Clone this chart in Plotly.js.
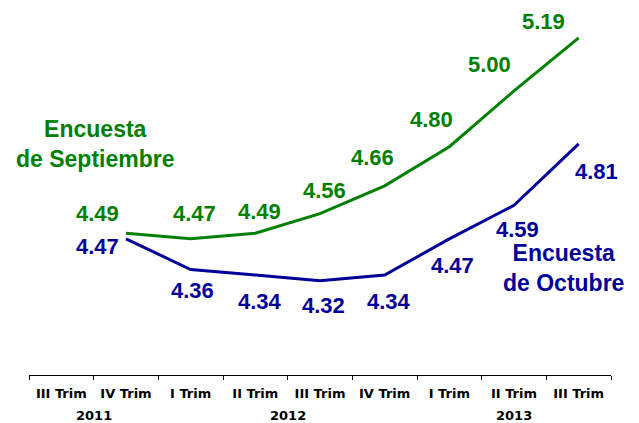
<!DOCTYPE html>
<html>
<head>
<meta charset="utf-8">
<script src="https://cdn.plot.ly/plotly-3.0.1.min.js"></script>
<style>html,body{margin:0;padding:0;background:#fff;}#chart{width:639px;height:423px;}</style>
</head>
<body>
<div id="chart"></div>
<script>
var quarters = ['III Trim','IV Trim','I Trim','II Trim','III Trim','IV Trim','I Trim','II Trim','III Trim'];
var years = ['2011','2011','2012','2012','2012','2012','2013','2013','2013'];
var septiembre = [null, 4.49, 4.47, 4.49, 4.56, 4.66, 4.80, 5.00, 5.19];
var octubre = [null, 4.47, 4.36, 4.34, 4.32, 4.34, 4.47, 4.59, 4.81];
var septName = 'Encuesta<br>de Septiembre';
var octName = 'Encuesta<br>de Octubre';

var GREEN = '#008000', BLUE = '#000099';
var ids = quarters.map(function(q, i){ return q + ' ' + years[i]; });

// label offsets (pixels) relative to each point
var septShift = [null, [-29,20],[4,25],[4,22],[4,23],[-12,28],[-18,27],[-25,26],[-35,16]];
var octShift  = [null, [-29,-8],[2,-21],[5,-26],[3,-25],[4,-26],[3,-27],[3,-24],[18,-28]];

var labelFamily = 'Liberation Sans, Arial, sans-serif';
var annotations = [];
function addLabels(vals, shifts, color){
  vals.forEach(function(v, i){
    if (v === null) return;
    annotations.push({x: ids[i], y: v, xref:'x', yref:'y', text:'<b>'+v.toFixed(2)+'</b>',
      showarrow:false, xshift: shifts[i][0], yshift: shifts[i][1], borderpad:0,
      xanchor:'center', yanchor:'middle', font:{family:labelFamily, size:22, color:color}});
  });
}
addLabels(septiembre, septShift, GREEN);
addLabels(octubre, octShift, BLUE);

// year group labels centered under their quarters
var uniqYears = years.filter(function(y, i){ return years.indexOf(y) === i; });
uniqYears.forEach(function(y){
  var idx = [];
  years.forEach(function(yy, i){ if (yy === y) idx.push(i); });
  var mid = (idx[0] + idx[idx.length-1]) / 2;
  annotations.push({x: mid, y: 0, xref:'x', yref:'paper', text:'<b>'+y+'</b>', showarrow:false,
    yshift:-40.5, xanchor:'center', yanchor:'middle', borderpad:0,
    font:{family:'DejaVu Sans, sans-serif', size:13, color:'#000'}});
});

annotations.push({x:0.115, y:0.633, xref:'paper', yref:'paper', text:'<b>'+septName+'</b>', showarrow:false,
  xanchor:'center', yanchor:'middle', align:'center', borderpad:0, font:{family:labelFamily, size:23, color:GREEN}});
annotations.push({x:0.919, y:0.292, xref:'paper', yref:'paper', text:'<b>'+octName+'</b>', showarrow:false,
  xanchor:'center', yanchor:'middle', align:'center', borderpad:0, font:{family:labelFamily, size:23, color:BLUE}});

var traces = [
  {x: ids, y: septiembre, type:'scatter', mode:'lines', line:{color:GREEN, width:3}, connectgaps:false, hoverinfo:'skip'},
  {x: ids, y: octubre, type:'scatter', mode:'lines', line:{color:BLUE, width:3}, connectgaps:false, hoverinfo:'skip'}
];

var layout = {
  width:639, height:423,
  margin:{l:29, r:28, t:10, b:48},
  paper_bgcolor:'#fff', plot_bgcolor:'#fff',
  showlegend:false,
  xaxis:{type:'category', categoryorder:'array', categoryarray: ids, range:[-0.5, 8.5],
    tickmode:'array', tickvals: ids, ticktext: quarters.map(function(q){return '<b>'+q+'</b>';}),
    tickson:'boundaries', ticks:'outside', ticklen:4, tickcolor:'#000', tickwidth:1,
    ticklabelstandoff:6,
    showline:true, linecolor:'#000', linewidth:1, showgrid:false, zeroline:false,
    tickfont:{family:'DejaVu Sans, sans-serif', size:13, color:'#000'}, fixedrange:true},
  yaxis:{visible:false, range:[3.982, 5.290], showgrid:false, zeroline:false, fixedrange:true},
  annotations: annotations
};

Plotly.newPlot('chart', traces, layout, {displayModeBar:false, staticPlot:true});
</script>
</body>
</html>
